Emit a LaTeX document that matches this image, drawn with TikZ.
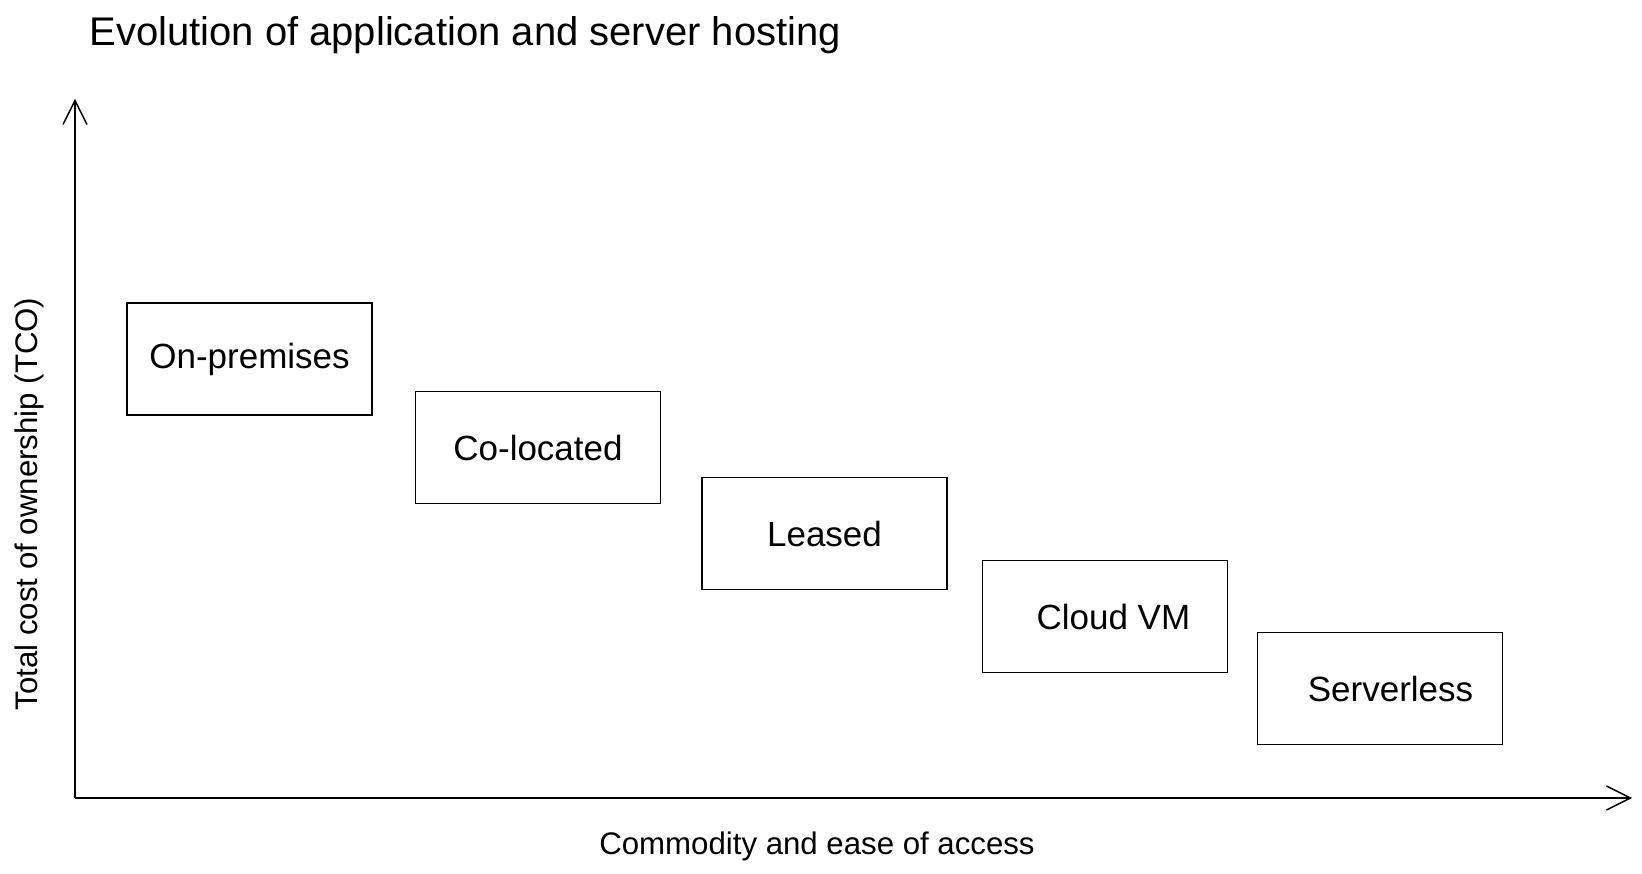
\documentclass[tikz,border=0pt]{standalone}
\usepackage{fontspec}
\setmainfont{Liberation Sans}
\usetikzlibrary{arrows.meta}
\begin{document}
\begin{tikzpicture}[x=0.5pt,y=0.5pt]
% Styles
\tikzstyle{cadre}=[line width=0.7pt]
\tikzstyle{fleche}=[-{Straight Barb[length=12pt,width=12pt,line width=0.7pt]},line width=0.7pt]
\tikzstyle{boite}=[draw,line width=0.7pt,minimum width=122.5pt,minimum height=56pt,inner sep=0pt,font=\fontsize{17.5}{21}\selectfont]
\tikzstyle{legende}=[font=\fontsize{15.6}{19}\selectfont]
% Cadre de la page
\useasboundingbox (0,0) rectangle (1642,873);
% Titre
\node[anchor=west,inner sep=0pt,font=\fontsize{20}{24}\selectfont] (titre) at (89,838) {Evolution of application and server hosting};
% Axes
\coordinate (origine) at (75,75);
\coordinate (hautY) at (75,774);
\coordinate (droiteX) at (1632,75);
\draw[fleche] (origine) -- (hautY);
\draw[fleche] (origine) -- (droiteX);
% Legendes des axes
\node[legende,rotate=90] (axeY) at (29,369) {Total cost of ownership (TCO)};
\node[legende] (axeX) at (817,27) {Commodity and ease of access};
% Paliers d'hebergement
\node[boite] (onprem) at (249.5,514) {On-premises};
\node[boite] (coloc) at (538,425.5) {Co-located};
\node[boite] (loue) at (824.5,339.5) {Leased};
\node[boite] (cloud) at (1105,256.5) {\hspace{8.4pt}Cloud VM};
\node[boite] (sansserveur) at (1380,184.5) {\hspace{10.5pt}Serverless};
\end{tikzpicture}
\end{document}
